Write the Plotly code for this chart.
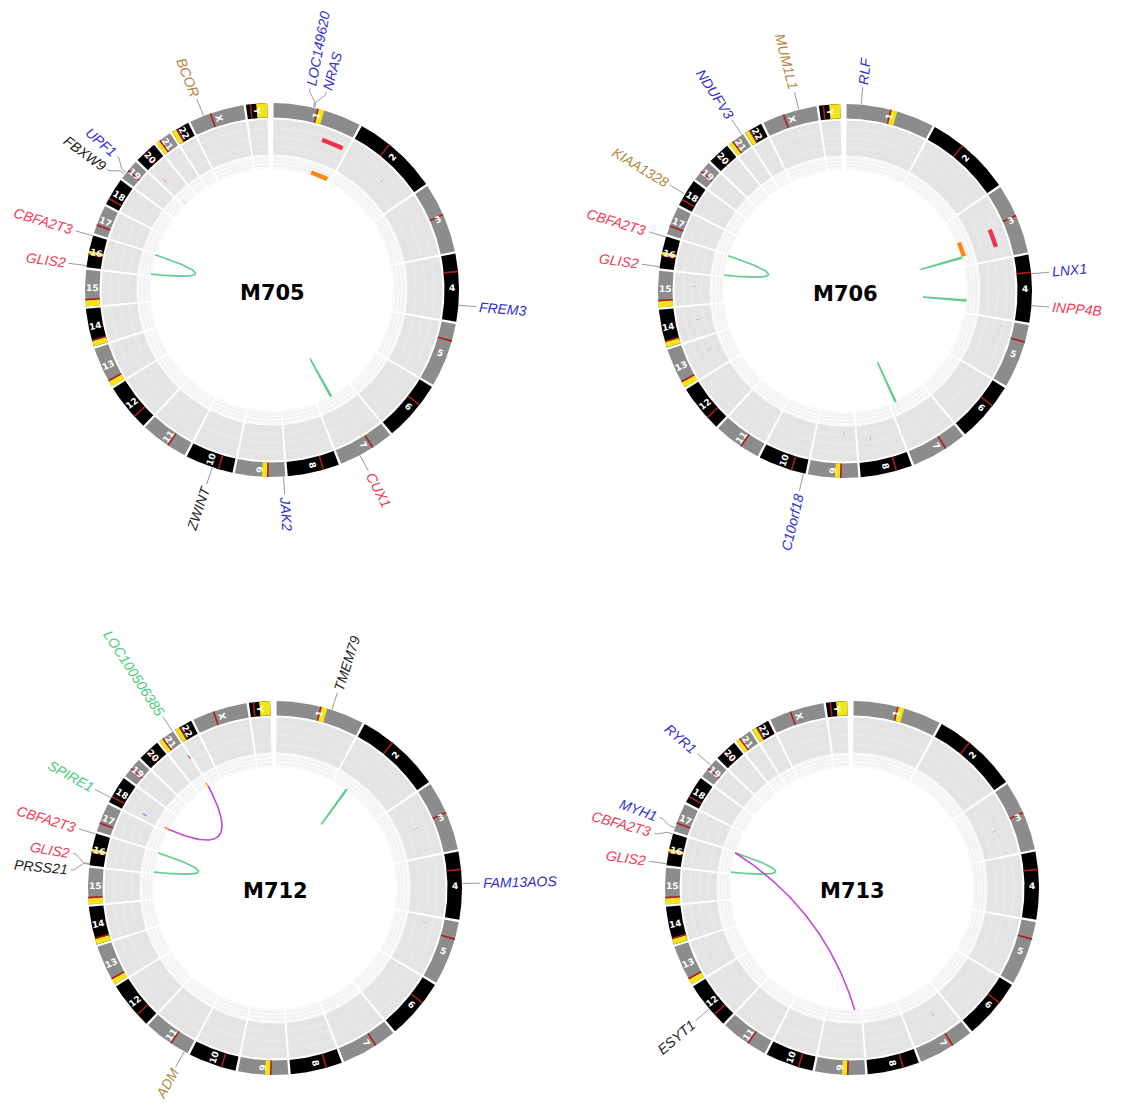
import numpy as np
import plotly.graph_objects as go

W, H = 1121, 1105

# ---------------- data ----------------
CHROMS = [str(i) for i in range(1, 23)] + ["X", "Y"]
CHROM_LEN = [249.25, 243.2, 198.0, 191.15, 180.9, 171.1, 159.1, 146.4, 141.2, 135.5, 135.0, 133.9,
             115.2, 107.3, 102.5, 90.4, 81.2, 78.1, 59.1, 63.0, 48.1, 51.3, 155.3, 59.4]
CENTROMERE = [125.0, 93.3, 91.0, 50.4, 48.4, 61.0, 59.9, 45.6, 49.0, 40.2, 53.7, 35.8,
              17.9, 17.6, 19.0, 36.6, 24.0, 17.2, 26.5, 27.5, 13.2, 14.7, 60.6, 12.5]
YELLOW_CHROM = ["1", "9", "13", "14", "15", "16", "21", "22", "Y"]
YELLOW_START = [125.0, 49.0, 0.0, 0.0, 0.0, 36.6, 0.0, 0.0, 28.8]
YELLOW_END = [143.0, 65.0, 16.5, 16.0, 17.5, 46.5, 11.5, 13.0, 59.4]

SAMPLES = ["M705", "M706", "M712", "M713"]

GENE_NAME = {
    "M705": ["LOC149620", "NRAS", "BCOR", "UPF1", "FBXW9", "CBFA2T3", "GLIS2", "FREM3", "CUX1", "JAK2", "ZWINT"],
    "M706": ["RLF", "MUM1L1", "NDUFV3", "KIAA1328", "CBFA2T3", "GLIS2", "LNX1", "INPP4B", "C10orf18"],
    "M712": ["LOC100506385", "TMEM79", "SPIRE1", "CBFA2T3", "GLIS2", "PRSS21", "FAM13AOS", "ADM"],
    "M713": ["RYR1", "MYH1", "CBFA2T3", "GLIS2", "ESYT1"],
}
GENE_CHR = {
    "M705": ["1", "1", "X", "19", "19", "16", "16", "4", "7", "9", "10"],
    "M706": ["1", "X", "21", "18", "16", "16", "4", "4", "10"],
    "M712": ["21", "1", "18", "16", "16", "16", "4", "11"],
    "M713": ["19", "17", "16", "16", "12"],
}
GENE_POS = {
    "M705": [112.0, 115.2, 40.0, 18.9, 12.8, 88.9, 4.4, 144.5, 101.5, 5.0, 58.1],
    "M706": [40.6, 105.4, 44.3, 34.4, 88.9, 4.4, 54.3, 143.0, 5.8],
    "M712": [46.5, 156.3, 12.4, 88.9, 4.4, 2.9, 89.7, 10.3],
    "M713": [38.9, 10.4, 88.9, 4.4, 56.5],
}
GENE_CLASS = {
    "M705": ["blue", "blue", "gold", "blue", "black", "red", "red", "blue", "red", "blue", "black"],
    "M706": ["blue", "gold", "blue", "gold", "red", "red", "blue", "red", "blue"],
    "M712": ["green", "black", "green", "red", "red", "black", "blue", "gold"],
    "M713": ["blue", "blue", "red", "red", "black"],
}

# copy-number segments: chrom, start, end (Mb), track, level within track (0..1), class
SEG_CHR = {"M705": ["1", "1", "20", "20", "2"],
           "M706": ["3", "3", "15", "14", "13", "9", "8"],
           "M712": ["21", "18", "18", "21", "3", "5"],
           "M713": ["3", "7"]}
SEG_START = {"M705": [163.0, 163.0, 13.5, 9.0, 150.0],
             "M706": [98.0, 98.0, 60.0, 60.0, 70.0, 40.0, 100.0],
             "M712": [45.0, 16.5, 10.0, 43.5, 100.0, 20.0],
             "M713": [110.0, 60.0]}
SEG_END = {"M705": [236.0, 236.0, 15.0, 10.5, 151.0],
           "M706": [159.0, 159.0, 61.0, 61.0, 71.0, 41.0, 101.0],
           "M712": [48.0, 19.5, 16.0, 48.0, 101.0, 21.0],
           "M713": [111.0, 61.0]}
SEG_TRACK = {"M705": ["outer", "inner", "outer", "inner", "outer"],
             "M706": ["outer", "inner", "outer", "outer", "outer", "outer", "outer"],
             "M712": ["outer", "outer", "inner", "inner", "outer", "outer"],
             "M713": ["outer", "outer"]}
SEG_LEVEL = {"M705": [0.65, 0.2, 0.5, 0.2, 0.55],
             "M706": [0.62, 0.2, 0.45, 0.4, 0.35, 0.2, 0.4],
             "M712": [0.6, 0.4, 0.2, 0.2, 0.5, 0.5],
             "M713": [0.5, 0.4]}
SEG_CLASS = {"M705": ["gain", "loh", "gain", "loh", "loss"],
             "M706": ["gain", "loh", "gain", "gain", "gain", "loss", "gain"],
             "M712": ["gain", "loss", "loh", "loh", "loss", "loss"],
             "M713": ["gain", "loss"]}

# structural links: chrom1, pos1, chrom2, pos2 (Mb), class
LINK_CHR1 = {"M705": ["16", "7"], "M706": ["16", "3", "4", "7"], "M712": ["16", "18", "2"], "M713": ["16", "16"]}
LINK_POS1 = {"M705": [88.9, 90.5], "M706": [88.9, 160.0, 141.0, 131.5], "M712": [88.9, 12.4, 64.5], "M713": [88.9, 88.9]}
LINK_CHR2 = {"M705": ["16", "7"], "M706": ["16", "3", "4", "7"], "M712": ["16", "21", "2"], "M713": ["16", "9"]}
LINK_POS2 = {"M705": [4.4, 95.0], "M706": [4.4, 164.0, 145.0, 135.5], "M712": [4.4, 46.5, 68.5], "M713": [4.4, 25.0]}
LINK_CLASS = {"M705": ["intra", "intra"], "M706": ["intra", "intra", "intra", "intra"],
              "M712": ["intra", "inter", "intra"], "M713": ["intra", "inter"]}

# ---------------- layout / style ----------------
PANEL_CENTER = {"M705": (272, 290), "M706": (845, 291), "M712": (275, 888), "M713": (852, 888)}
R_IDEO_OUT, R_IDEO_IN = 187, 172.5
R_T1_OUT, R_T1_IN = 170.5, 135.5
R_T2_OUT, R_T2_IN = 135.5, 121
R_LINK, R_CTRL = 122, 35
R_LABEL = 207
GAP, START, END = 0.75, 0.5, 358.5
SCALE = (END - START - 23 * GAP) / sum(CHROM_LEN)
CHR_START = []
acc = START
for L in CHROM_LEN:
    CHR_START.append(acc)
    acc += L * SCALE + GAP

GENE_COLOR = {"blue": "#2f2fd2", "red": "#ef3b57", "black": "#1e1e1e", "gold": "#b3873a", "green": "#45cd78"}
SEG_COLOR = {"gain": "#f0324f", "loh": "#ff8410", "loss": "#3f6fe0"}
LINK_COLOR = {"intra": "#5fce8b", "inter": "#c447d6"}
IDEO_COLOR = ["#8c8c8c", "#000000"]


def ang(chrom, pos):
    return CHR_START[CHROMS.index(chrom)] + pos * SCALE


def polar(c, r, th):
    t = np.radians(th)
    return c[0] + r * np.sin(t), c[1] - r * np.cos(t)


class Acc:
    def __init__(self):
        self.x, self.y = [], []

    def add(self, xs, ys):
        self.x += list(xs) + [None]
        self.y += list(ys) + [None]


def sector(c, r0, r1, t0, t1):
    n = max(2, int(abs(t1 - t0) * 3) + 2)
    ts = np.linspace(t0, t1, n)
    xo, yo = polar(c, r1, ts)
    xi, yi = polar(c, r0, ts[::-1])
    return list(xo) + list(xi) + [xo[0]], list(yo) + list(yi) + [yo[0]]


def arc(c, r, t0, t1):
    n = max(2, int(abs(t1 - t0) * 3) + 2)
    ts = np.linspace(t0, t1, n)
    return polar(c, r, ts)


CW = {'A': .667, 'B': .667, 'C': .722, 'D': .722, 'E': .667, 'F': .611, 'G': .778, 'H': .722, 'I': .278,
      'J': .5, 'K': .667, 'L': .556, 'M': .833, 'N': .722, 'O': .778, 'P': .667, 'Q': .778, 'R': .722,
      'S': .667, 'T': .611, 'U': .722, 'V': .667, 'W': .944, 'X': .667, 'Y': .667, 'Z': .611,
      'f': .278, 'r': .333, 'o': .556}


def text_w(s, fs):
    return sum(CW.get(ch, .556) for ch in s) * fs


def radial_angle(th):
    th = th % 360
    return th - 90 if th <= 180 else th + 90 - 360


def spread(angles, minsep):
    order = np.argsort(angles)
    a = np.array(angles, dtype=float)[order]
    for _ in range(300):
        moved = False
        for i in range(len(a) - 1):
            if a[i + 1] - a[i] < minsep - 1e-6:
                m = (a[i] + a[i + 1]) / 2
                a[i], a[i + 1] = m - minsep / 2, m + minsep / 2
                moved = True
        if not moved:
            break
    out = np.empty_like(a)
    out[order] = a
    return out


t1_fill, t2_fill = Acc(), Acc()
t1_grid, t2_grid = Acc(), Acc()
ideo = {0: Acc(), 1: Acc()}
yellow, centro = Acc(), Acc()
segs = {k: Acc() for k in SEG_COLOR}
links = {k: Acc() for k in LINK_COLOR}
conn = Acc()
annotations = []

for s in SAMPLES:
    c = PANEL_CENTER[s]
    for i, ch in enumerate(CHROMS):
        a0 = CHR_START[i]
        a1 = a0 + CHROM_LEN[i] * SCALE
        t1_fill.add(*sector(c, R_T1_IN, R_T1_OUT, a0, a1))
        t2_fill.add(*sector(c, R_T2_IN, R_T2_OUT - 0.5, a0, a1))
        for r in (144, 153, 162):
            t1_grid.add(*arc(c, r, a0, a1))
        for r in (124.5, 128, 131.5):
            t2_grid.add(*arc(c, r, a0, a1))
        ideo[i % 2].add(*sector(c, R_IDEO_IN, R_IDEO_OUT, a0, a1))
        cm = ang(ch, CENTROMERE[i])
        centro.add(*sector(c, R_IDEO_IN, R_IDEO_OUT, cm - 0.25, cm + 0.25))
        mid = (a0 + a1) / 2
        lx, ly = polar(c, (R_IDEO_IN + R_IDEO_OUT) / 2, mid)
        annotations.append(dict(x=lx, y=ly, text="<b>%s</b>" % ch, showarrow=False,
                                font=dict(family="DejaVu Sans", size=9, color="white"),
                                textangle=radial_angle(mid), xanchor="center", yanchor="middle"))
    for j, ch in enumerate(YELLOW_CHROM):
        yellow.add(*sector(c, R_IDEO_IN, R_IDEO_OUT, ang(ch, YELLOW_START[j]), ang(ch, YELLOW_END[j])))
    for k in range(len(SEG_CHR[s])):
        t0 = ang(SEG_CHR[s][k], SEG_START[s][k])
        t1 = ang(SEG_CHR[s][k], SEG_END[s][k])
        if SEG_TRACK[s][k] == "outer":
            rr = R_T1_IN + SEG_LEVEL[s][k] * (R_T1_OUT - R_T1_IN)
        else:
            rr = R_T2_IN + SEG_LEVEL[s][k] * (R_T2_OUT - R_T2_IN)
        segs[SEG_CLASS[s][k]].add(*sector(c, rr - 2.2, rr + 2.2, t0, t1))
    for k in range(len(LINK_CHR1[s])):
        ta = ang(LINK_CHR1[s][k], LINK_POS1[s][k])
        tb = ang(LINK_CHR2[s][k], LINK_POS2[s][k])
        d = (tb - ta + 540) % 360 - 180
        tm = ta + d / 2
        p0 = polar(c, R_LINK, ta)
        p2 = polar(c, R_LINK, tb)
        pc = polar(c, R_CTRL, tm)
        u = np.linspace(0, 1, 80)
        bx = (1 - u) ** 2 * p0[0] + 2 * (1 - u) * u * pc[0] + u ** 2 * p2[0]
        by = (1 - u) ** 2 * p0[1] + 2 * (1 - u) * u * pc[1] + u ** 2 * p2[1]
        links[LINK_CLASS[s][k]].add(bx, by)
    gth = [ang(GENE_CHR[s][k], GENE_POS[s][k]) for k in range(len(GENE_NAME[s]))]
    lth = spread(gth, 4.6)
    for k, name in enumerate(GENE_NAME[s]):
        g, l = gth[k], lth[k]
        pts = [polar(c, R_IDEO_OUT + 0.5, g), polar(c, R_IDEO_OUT + 6, g),
               polar(c, R_IDEO_OUT + 15, l), polar(c, R_LABEL - 2, l)]
        conn.add([p[0] for p in pts], [p[1] for p in pts])
        w = text_w(name, 14)
        tx, ty = polar(c, R_LABEL + w / 2 + 1, l)
        annotations.append(dict(x=tx, y=ty, text="<i>%s</i>" % name, showarrow=False,
                                font=dict(family="Liberation Sans", size=14, color=GENE_COLOR[GENE_CLASS[s][k]]),
                                textangle=radial_angle(l), xanchor="center", yanchor="middle"))
    annotations.append(dict(x=c[0], y=c[1] + 3, text="<b>%s</b>" % s, showarrow=False,
                            font=dict(family="DejaVu Sans", size=21, color="black"),
                            xanchor="center", yanchor="middle"))

fig = go.Figure()


def fill_trace(acc, color):
    fig.add_trace(go.Scatter(x=acc.x, y=acc.y, mode="lines", fill="toself", fillcolor=color,
                             line=dict(width=0, color=color), hoverinfo="skip", showlegend=False))


def line_trace(acc, color, width):
    fig.add_trace(go.Scatter(x=acc.x, y=acc.y, mode="lines", line=dict(width=width, color=color),
                             hoverinfo="skip", showlegend=False))


fill_trace(t1_fill, "#e4e4e4")
line_trace(t1_grid, "#eeeeee", 0.8)
fill_trace(t2_fill, "#f8f8f8")
line_trace(t2_grid, "#e9e9e9", 0.7)
fill_trace(ideo[0], IDEO_COLOR[0])
fill_trace(ideo[1], IDEO_COLOR[1])
fill_trace(yellow, "#f2e415")
fill_trace(centro, "#b01c1c")
for k, a in segs.items():
    fill_trace(a, SEG_COLOR[k])
for k, a in links.items():
    line_trace(a, LINK_COLOR[k], 1.6)
line_trace(conn, "#9a9a9a", 1.0)

fig.update_layout(width=W, height=H, margin=dict(l=0, r=0, t=0, b=0),
                  paper_bgcolor="white", plot_bgcolor="white",
                  xaxis=dict(range=[0, W], visible=False, fixedrange=True),
                  yaxis=dict(range=[H, 0], visible=False, fixedrange=True),
                  annotations=annotations, showlegend=False)
# remove the default 8 px body margin of the page so the figure fills the window exactly
fig.write_html("out.html", config={"displayModeBar": False, "staticPlot": True},
               post_script="document.body.style.margin='0px';document.body.style.overflow='hidden';")
